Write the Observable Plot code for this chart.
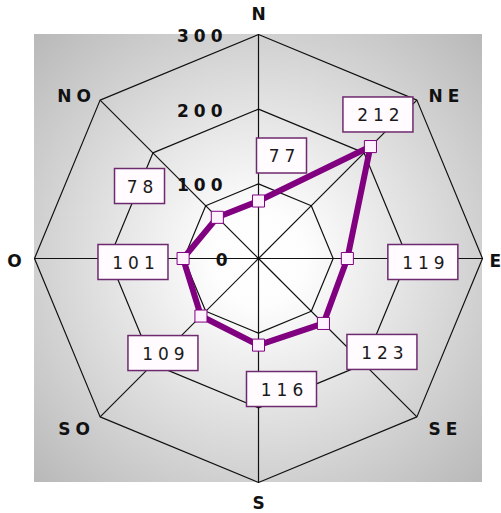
<!DOCTYPE html>
<html>
<head>
<meta charset="utf-8">
<script src="https://cdn.jsdelivr.net/npm/d3@7"></script>
<script src="https://cdn.jsdelivr.net/npm/@observablehq/plot@0.6"></script>
<style>
  html, body { margin: 0; padding: 0; background: #ffffff; }
  #chart svg { display: block; }
</style>
</head>
<body>
<div id="chart"></div>
<script>
// ---- data ----
const directions = ["N", "NE", "E", "SE", "S", "SO", "O", "NO"];
const values = [77, 212, 119, 123, 116, 109, 101, 78];
const ringTicks = [0, 100, 200, 300];

// ---- layout (pixels) ----
const W = 501, H = 513;
const cx = 258, cy = 258, rPx = 224;
const rMax = d3.max(ringTicks);
const k = rMax / rPx; // data units per pixel
// offsets of value-label boxes from their points (px)
const labelOffsets = [[23.5, -45], [8, -31.6], [76, 4], [59, 29], [23.5, 44.4], [-37.5, 37.5], [-49.6, 4], [-77.3, -30.8]];
// offsets of direction names from the outer vertices (px) and anchors
const dirOffsets = [[0, -20], [27, -4], [7, 3], [26, 13], [0, 21], [-26, 13], [-20, 3], [-26, -4]];
const dirAnchors = ["middle", "middle", "start", "middle", "middle", "middle", "middle", "middle"];

const angle = i => i * Math.PI / 4;
const polar = (r, i) => ({x: r * Math.sin(angle(i)), y: r * Math.cos(angle(i))});

const points = values.map((v, i) => ({dir: directions[i], value: v, ...polar(v, i)}));
const rings = ringTicks.filter(t => t > 0).flatMap(t => directions.map((d, i) => ({ring: t, ...polar(t, i)})));
const vertices = directions.map((d, i) => ({dir: d, ...polar(rMax, i)}));
const LS = 5; // letter spacing

const defsMark = () => {
  const defs = d3.create("svg:defs");
  const g = defs.append("radialGradient").attr("id", "bg")
    .attr("cx", "50%").attr("cy", "50%").attr("r", "71%");
  g.append("stop").attr("offset", "0").attr("stop-color", "#ffffff");
  g.append("stop").attr("offset", "0.15").attr("stop-color", "#fdfdfd");
  g.append("stop").attr("offset", "1").attr("stop-color", "#b8b8b8");
  return defs.node();
};

const boxMark = (index, scales) => {
  const g = d3.create("svg:g");
  points.forEach((d, i) => {
    const px = scales.x(d.x), py = scales.y(d.y);
    const [ox, oy] = labelOffsets[i];
    const w = String(d.value).length >= 3 ? 70 : 50, h = 35;
    g.append("rect")
      .attr("x", px + ox - w / 2).attr("y", py + oy - h / 2)
      .attr("width", w).attr("height", h)
      .attr("fill", "#fffbff").attr("stroke", "#6e2a6e").attr("stroke-width", 1.5);
  });
  return g.node();
};

const valueTexts = points.map((d, i) => Plot.text([d], {
  x: "x", y: "y", text: d => String(d.value),
  dx: labelOffsets[i][0] + LS / 2, dy: labelOffsets[i][1] + 1,
  fontSize: 17, fontFamily: "DejaVu Sans", fill: "#1a1a1a", textAnchor: "middle"
}));

const dirTexts = vertices.map((d, i) => Plot.text([d], {
  x: "x", y: "y", text: "dir",
  dx: dirOffsets[i][0] + (d.dir.length > 1 ? LS / 2 : 0), dy: dirOffsets[i][1],
  fontSize: 17, fontWeight: "bold", fontFamily: "DejaVu Sans", fill: "#111", textAnchor: dirAnchors[i]
}));

const tickLabels = Plot.text(ringTicks.map(t => ({t, x: 0, y: t})), {
  x: "x", y: "y", text: d => String(d.t),
  dx: -36 + LS, dy: 2, textAnchor: "end",
  fontSize: 17, fontWeight: "bold", fontFamily: "DejaVu Sans", fill: "#111"
});

const chart = Plot.plot({
  width: W, height: H,
  marginTop: 0, marginRight: 0, marginBottom: 0, marginLeft: 0,
  style: {background: "#ffffff", letterSpacing: LS + "px"},
  x: {domain: [-cx * k, (W - cx) * k], axis: null},
  y: {domain: [-(H - cy) * k, cy * k], axis: null},
  marks: [
    defsMark,
    Plot.rect([0], {x1: () => -rMax, x2: () => rMax, y1: () => -rMax, y2: () => rMax, fill: "url(#bg)"}),
    Plot.line(rings, {x: "x", y: "y", z: "ring", curve: "linear-closed", stroke: "#111", strokeWidth: 1.2}),
    Plot.link(vertices, {x1: () => 0, y1: () => 0, x2: "x", y2: "y", stroke: "#111", strokeWidth: 1.2}),
    Plot.line(points, {x: "x", y: "y", curve: "linear-closed", stroke: "#800080", strokeWidth: 6, strokeLinejoin: "round"}),
    Plot.dot(points, {x: "x", y: "y", symbol: "square", r: 6.8, fill: "#fff2ff", stroke: "#800080", strokeWidth: 1}),
    boxMark,
    ...valueTexts,
    ...dirTexts,
    tickLabels
  ]
});
// single-letter labels need no trailing letter spacing
d3.select(chart).selectAll("text").filter(function() { return this.textContent.length === 1; })
  .style("letter-spacing", "0px");
document.getElementById("chart").appendChild(chart);
</script>
</body>
</html>
